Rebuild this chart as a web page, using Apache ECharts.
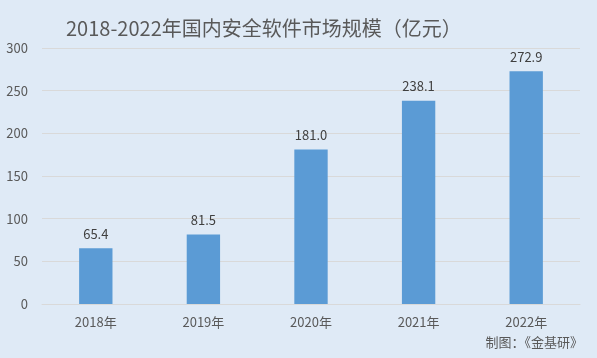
<!DOCTYPE html>
<html><head><meta charset="utf-8">
<script src="https://cdn.jsdelivr.net/npm/echarts@6/dist/echarts.min.js"></script>
<style>html,body{margin:0;padding:0;background:#dfeaf6;}#c{width:597px;height:358px;}</style>
</head><body><div id="c"></div>
<script>
const categories = ['2018年','2019年','2020年','2021年','2022年'];
const values = [65.4, 81.5, 181.0, 238.1, 272.9];
const yTicks = [0, 50, 100, 150, 200, 250, 300];
const titleText = '2018-2022年国内安全软件市场规模（亿元）';
const sourceText = '制图：《金基研》';
const ff = '"Noto Sans CJK SC", "Noto Sans", sans-serif';
const chart = echarts.init(document.getElementById('c'));
chart.setOption({
  backgroundColor: '#dfeaf6',
  textStyle: {fontFamily: ff},
  title: [{text: titleText, left: 61, top: 13, textStyle: {fontFamily: ff, fontSize: 20, fontWeight: 'normal', color: '#595959'}},
          {text: sourceText, right: 9, bottom: 4, textStyle: {fontFamily: ff, fontSize: 13, fontWeight: 'normal', color: '#595959'}}],
  grid: {left: 42, right: 17, top: 48, bottom: 54},
  xAxis: {type: 'category', data: categories,
    axisLine: {lineStyle: {color: '#d9d9d9'}}, axisTick: {show: false},
    axisLabel: {color: '#595959', fontSize: 13, margin: 12}},
  yAxis: {type: 'value', min: 0, max: 300, interval: 50,
    axisLine: {show: false}, axisTick: {show: false},
    splitLine: {lineStyle: {color: '#d9d9d9'}},
    axisLabel: {color: '#595959', fontSize: 13, margin: 14,
      formatter: v => yTicks.includes(v) ? String(v) : ''}},
  series: [{type: 'bar', data: values, barWidth: '31%',
    itemStyle: {color: '#5b9bd5'},
    label: {show: true, position: 'top', distance: 8, color: '#404040', fontSize: 13,
      formatter: p => p.value.toFixed(1)}}]
});
</script></body></html>
